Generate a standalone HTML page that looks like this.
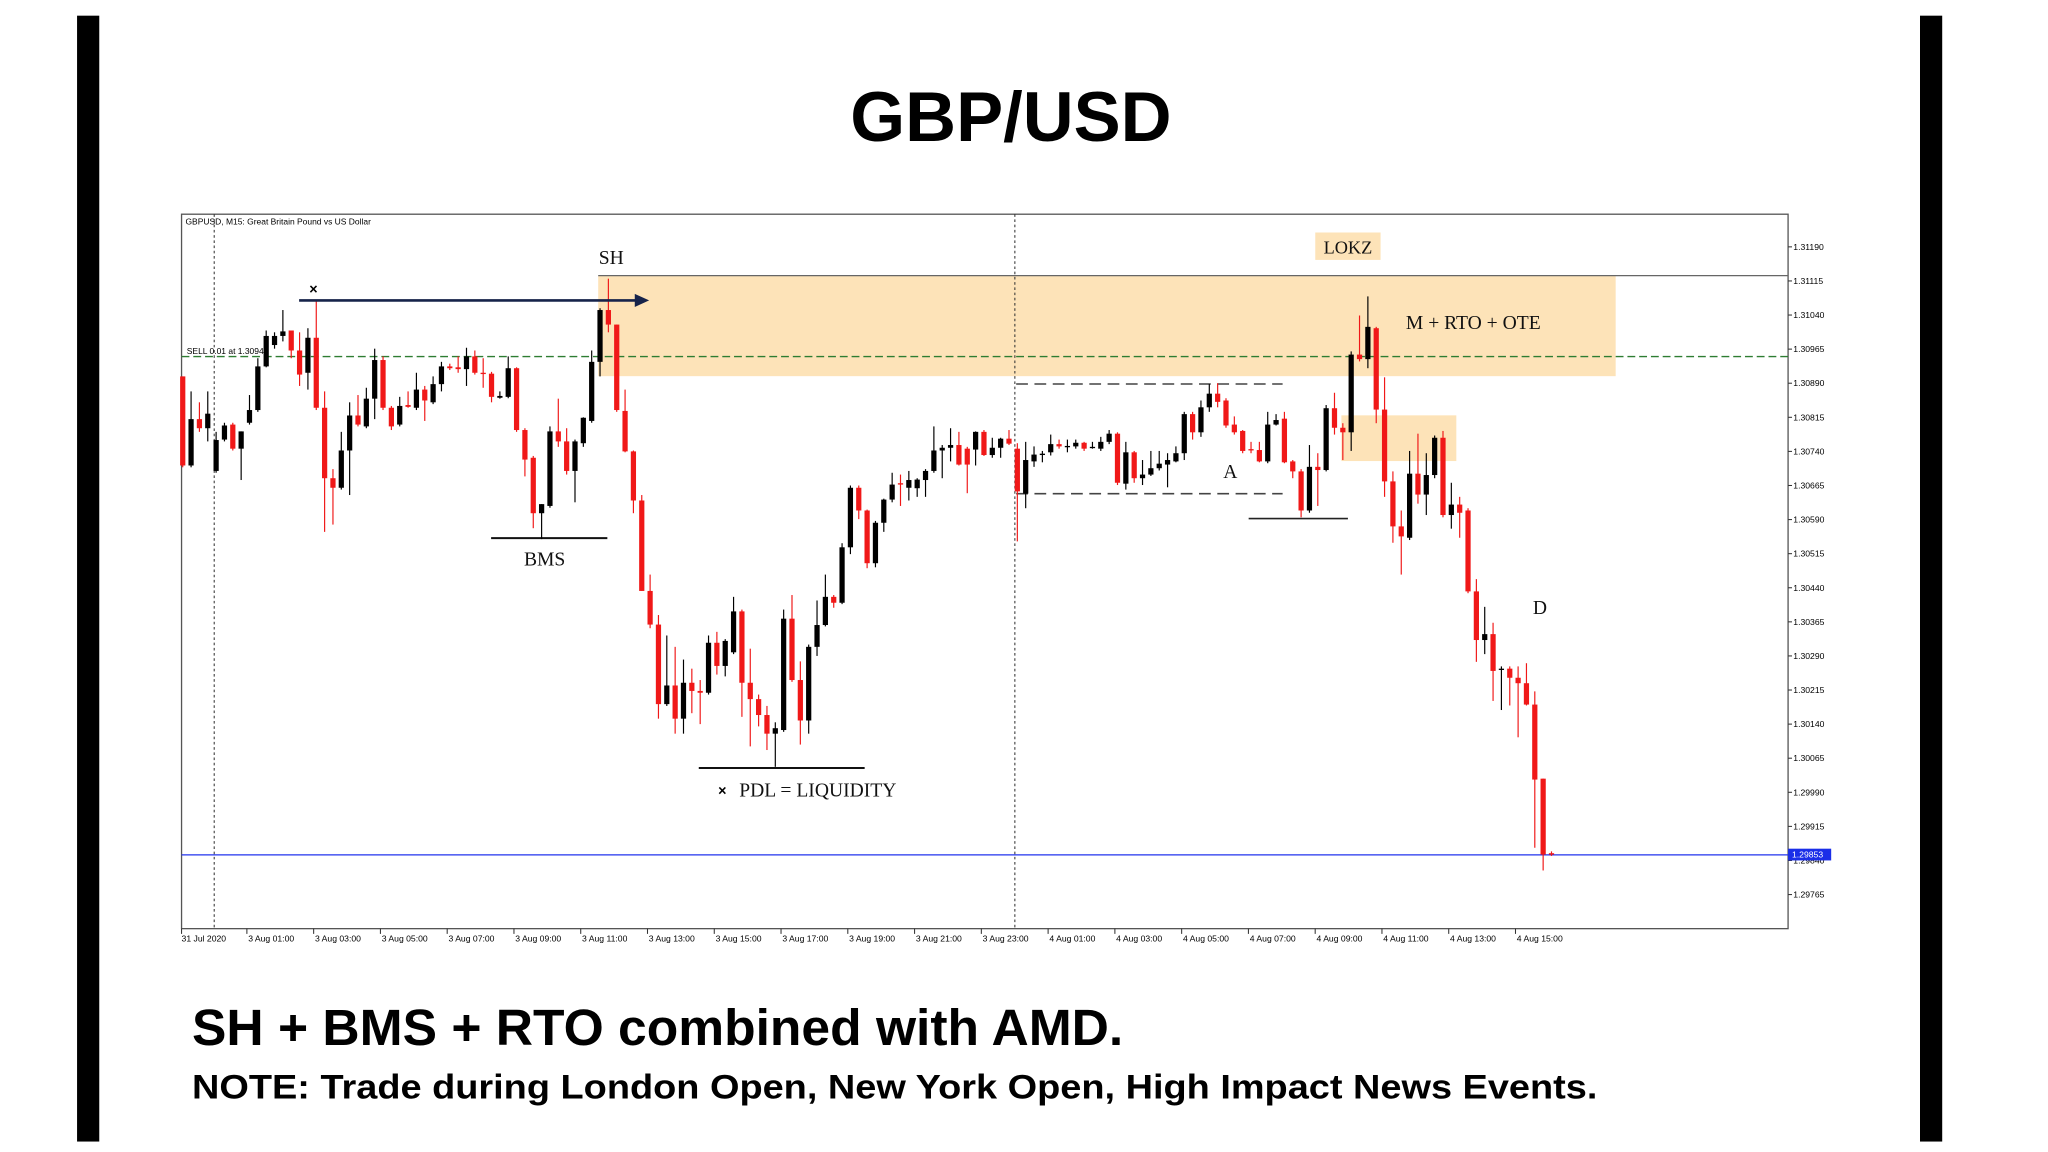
<!DOCTYPE html>
<html><head><meta charset="utf-8"><style>
html,body{margin:0;padding:0;background:#fff;}
svg{display:block;}
</style></head><body>
<svg id="root" width="2048" height="1152" viewBox="0 0 1568 882" xmlns="http://www.w3.org/2000/svg">
<rect x="0" y="0" width="1568" height="882" fill="#fff"/>
<rect x="59" y="12" width="17" height="862" fill="#000"/>
<rect x="1470" y="12" width="17" height="862" fill="#000"/>
<text x="774" y="108" text-anchor="middle" font-family="'Liberation Sans',sans-serif" font-weight="bold" font-size="54" fill="#000">GBP/USD</text>
<g id="chart">
<rect x="139" y="164" width="1230" height="547" fill="#fff" stroke="#555" stroke-width="1"/>
<rect x="458" y="211" width="779" height="77" fill="#fde3b8"/>
<rect x="1027" y="318" width="88" height="35" fill="#fde3b8"/>
<line x1="458" y1="211" x2="1369" y2="211" stroke="#666" stroke-width="1"/>
<line x1="164" y1="164" x2="164" y2="711" stroke="#333" stroke-width="0.8" stroke-dasharray="2 2"/>
<line x1="777" y1="164" x2="777" y2="711" stroke="#333" stroke-width="0.8" stroke-dasharray="2 2"/>
<line x1="139" y1="273" x2="1369" y2="273" stroke="#2e7d32" stroke-width="1" stroke-dasharray="6 3"/>
<text x="143" y="271" font-family="'Liberation Sans',sans-serif" font-size="6.5" fill="#000">SELL 0.01 at 1.30948</text>
<line x1="139" y1="654.5" x2="1369" y2="654.5" stroke="#2233ee" stroke-width="1"/>
<line x1="778" y1="294" x2="982" y2="294" stroke="#444" stroke-width="1.2" stroke-dasharray="9 5"/>
<line x1="778" y1="378" x2="982" y2="378" stroke="#444" stroke-width="1.2" stroke-dasharray="9 5"/>
<line x1="956" y1="397" x2="1032" y2="397" stroke="#222" stroke-width="1.2"/>
<line x1="376" y1="412" x2="465" y2="412" stroke="#111" stroke-width="1.5"/>
<line x1="535" y1="588" x2="662" y2="588" stroke="#111" stroke-width="1.5"/>
<g id="candles"></g>
<line x1="229" y1="230" x2="488" y2="230" stroke="#16234a" stroke-width="2"/>
<polygon points="486,225 497,230 486,235" fill="#16234a"/>
<text x="240" y="225" text-anchor="middle" font-family="'Liberation Sans',sans-serif" font-weight="bold" font-size="11" fill="#000">×</text>
<text x="468" y="202" text-anchor="middle" font-family="'Liberation Serif',serif" font-size="15" fill="#111">SH</text>
<text x="417" y="433" text-anchor="middle" font-family="'Liberation Serif',serif" font-size="15" fill="#111">BMS</text>
<text x="553" y="609" text-anchor="middle" font-family="'Liberation Sans',sans-serif" font-weight="bold" font-size="11" fill="#000">×</text>
<text x="566" y="610" font-family="'Liberation Serif',serif" font-size="15" fill="#111">PDL = LIQUIDITY</text>
<rect x="1007" y="178" width="50" height="21" fill="#fde3b8"/>
<text x="1032" y="194" text-anchor="middle" font-family="'Liberation Serif',serif" font-size="14" fill="#111">LOKZ</text>
<text x="1128" y="252" text-anchor="middle" font-family="'Liberation Serif',serif" font-size="15" fill="#111">M + RTO + OTE</text>
<text x="942" y="366" text-anchor="middle" font-family="'Liberation Serif',serif" font-size="15" fill="#111">A</text>
<text x="1179" y="470" text-anchor="middle" font-family="'Liberation Serif',serif" font-size="15" fill="#111">D</text>
<text x="142" y="172" font-family="'Liberation Sans',sans-serif" font-size="6.5" fill="#000">GBPUSD, M15:  Great Britain Pound vs US Dollar</text>
<g id="yaxis"></g>
<g id="xaxis"></g>
</g>
<text x="147" y="800" font-family="'Liberation Sans',sans-serif" font-weight="bold" font-size="39" textLength="713" lengthAdjust="spacingAndGlyphs" fill="#000">SH + BMS + RTO combined with AMD.</text>
<text x="147" y="841" font-family="'Liberation Sans',sans-serif" font-weight="bold" font-size="26" textLength="1076" lengthAdjust="spacingAndGlyphs" fill="#000">NOTE: Trade during London Open, New York Open, High Impact News Events.</text>
</svg>
<script>
const opens=[1.30905,1.30709,1.30811,1.30791,1.30697,1.30766,1.30799,1.30746,1.30803,1.30831,1.30927,1.30974,1.30994,1.31006,1.30962,1.30913,1.30990,1.30836,1.30681,1.30660,1.30742,1.30819,1.30795,1.30856,1.30941,1.30836,1.30799,1.30842,1.30836,1.30876,1.30848,1.30888,1.30927,1.30925,1.30921,1.30949,1.30913,1.30911,1.30858,1.30860,1.30923,1.30787,1.30726,1.30604,1.30620,1.30784,1.30762,1.30697,1.30758,1.30807,1.30937,1.31051,1.31019,1.30829,1.30740,1.30632,1.30433,1.30359,1.30184,1.30225,1.30152,1.30231,1.30213,1.30209,1.30319,1.30268,1.30298,1.30388,1.30231,1.30195,1.30160,1.30119,1.30127,1.30372,1.30237,1.30148,1.30310,1.30358,1.30420,1.30407,1.30529,1.30660,1.30610,1.30494,1.30583,1.30634,1.30670,1.30660,1.30659,1.30677,1.30697,1.30742,1.30748,1.30754,1.30746,1.30744,1.30783,1.30732,1.30748,1.30768,1.30746,1.30647,1.30718,1.30732,1.30738,1.30756,1.30750,1.30751,1.30759,1.30748,1.30746,1.30761,1.30779,1.30669,1.30738,1.30681,1.30689,1.30703,1.30711,1.30718,1.30736,1.30822,1.30782,1.30837,1.30867,1.30852,1.30799,1.30785,1.30745,1.30743,1.30718,1.30799,1.30812,1.30718,1.30696,1.30610,1.30706,1.30699,1.30835,1.30792,1.30782,1.30953,1.30943,1.31011,1.30832,1.30674,1.30575,1.30550,1.30691,1.30645,1.30688,1.30770,1.30600,1.30623,1.30610,1.30432,1.30325,1.30338,1.30260,1.30262,1.30242,1.30230,1.30183,1.30020,1.29856];
const highs=[1.30905,1.30872,1.30848,1.30872,1.30783,1.30803,1.30803,1.30784,1.30864,1.30945,1.31006,1.31002,1.31051,1.31006,1.31002,1.31011,1.31072,1.30872,1.30701,1.30783,1.30848,1.30864,1.30880,1.30966,1.30949,1.30840,1.30860,1.30872,1.30913,1.30884,1.30905,1.30937,1.30933,1.30949,1.30968,1.30962,1.30945,1.30915,1.30872,1.30949,1.30925,1.30791,1.30730,1.30624,1.30795,1.30856,1.30791,1.30766,1.30815,1.30962,1.31055,1.31120,1.31019,1.30876,1.30742,1.30644,1.30469,1.30380,1.30335,1.30310,1.30282,1.30262,1.30237,1.30335,1.30343,1.30327,1.30420,1.30392,1.30306,1.30205,1.30180,1.30144,1.30392,1.30424,1.30278,1.30315,1.30412,1.30469,1.30424,1.30538,1.30665,1.30665,1.30612,1.30587,1.30636,1.30693,1.30689,1.30697,1.30681,1.30701,1.30795,1.30754,1.30791,1.30783,1.30750,1.30784,1.30787,1.30770,1.30770,1.30787,1.30758,1.30761,1.30751,1.30741,1.30777,1.30766,1.30766,1.30766,1.30761,1.30761,1.30772,1.30787,1.30782,1.30761,1.30741,1.30721,1.30741,1.30741,1.30736,1.30751,1.30827,1.30827,1.30852,1.30888,1.30890,1.30857,1.30817,1.30787,1.30761,1.30761,1.30827,1.30822,1.30827,1.30721,1.30701,1.30754,1.30736,1.30842,1.30869,1.30802,1.30960,1.31039,1.31081,1.31014,1.30903,1.30696,1.30610,1.30741,1.30779,1.30736,1.30775,1.30785,1.30671,1.30640,1.30615,1.30459,1.30398,1.30363,1.30267,1.30267,1.30267,1.30274,1.30212,1.30020,1.29860];
const lows=[1.30705,1.30705,1.30783,1.30762,1.30693,1.30762,1.30742,1.30677,1.30799,1.30827,1.30925,1.30966,1.30982,1.30945,1.30884,1.30876,1.30831,1.30563,1.30579,1.30656,1.30644,1.30795,1.30791,1.30811,1.30831,1.30787,1.30795,1.30836,1.30831,1.30807,1.30844,1.30872,1.30919,1.30913,1.30884,1.30909,1.30880,1.30848,1.30856,1.30857,1.30783,1.30685,1.30571,1.30547,1.30616,1.30750,1.30689,1.30628,1.30750,1.30803,1.30905,1.31002,1.30827,1.30738,1.30604,1.30433,1.30351,1.30152,1.30180,1.30119,1.30119,1.30164,1.30140,1.30205,1.30249,1.30245,1.30294,1.30156,1.30091,1.30135,1.30083,1.30046,1.30123,1.30233,1.30095,1.30119,1.30290,1.30355,1.30396,1.30404,1.30514,1.30591,1.30483,1.30485,1.30563,1.30628,1.30620,1.30632,1.30640,1.30640,1.30693,1.30681,1.30718,1.30709,1.30648,1.30709,1.30730,1.30726,1.30726,1.30754,1.30542,1.30615,1.30706,1.30716,1.30731,1.30746,1.30738,1.30746,1.30741,1.30746,1.30741,1.30756,1.30666,1.30656,1.30671,1.30666,1.30686,1.30698,1.30661,1.30716,1.30721,1.30766,1.30772,1.30827,1.30837,1.30792,1.30777,1.30736,1.30736,1.30716,1.30714,1.30797,1.30714,1.30681,1.30595,1.30605,1.30620,1.30696,1.30777,1.30721,1.30741,1.30938,1.30923,1.30802,1.30640,1.30539,1.30469,1.30545,1.30625,1.30600,1.30681,1.30595,1.30570,1.30550,1.30428,1.30277,1.30294,1.30191,1.30171,1.30181,1.30111,1.30181,1.29868,1.29818,1.29850];
const closes=[1.30709,1.30811,1.30791,1.30823,1.30765,1.30797,1.30746,1.30784,1.30831,1.30927,1.30994,1.30994,1.31004,1.30962,1.30909,1.30990,1.30836,1.30681,1.30660,1.30742,1.30819,1.30799,1.30856,1.30941,1.30836,1.30795,1.30840,1.30838,1.30876,1.30852,1.30888,1.30927,1.30923,1.30921,1.30949,1.30913,1.30911,1.30860,1.30862,1.30923,1.30787,1.30722,1.30604,1.30624,1.30784,1.30762,1.30697,1.30762,1.30814,1.30937,1.31051,1.31019,1.30831,1.30740,1.30632,1.30433,1.30359,1.30184,1.30225,1.30152,1.30231,1.30213,1.30209,1.30319,1.30268,1.30323,1.30388,1.30231,1.30195,1.30160,1.30119,1.30131,1.30372,1.30237,1.30148,1.30310,1.30358,1.30420,1.30407,1.30529,1.30660,1.30610,1.30494,1.30583,1.30634,1.30667,1.30667,1.30677,1.30678,1.30697,1.30742,1.30748,1.30754,1.30711,1.30711,1.30783,1.30732,1.30748,1.30768,1.30757,1.30652,1.30721,1.30733,1.30735,1.30756,1.30751,1.30752,1.30759,1.30746,1.30750,1.30761,1.30779,1.30671,1.30738,1.30681,1.30689,1.30703,1.30713,1.30721,1.30736,1.30822,1.30782,1.30837,1.30867,1.30849,1.30797,1.30782,1.30741,1.30743,1.30718,1.30799,1.30809,1.30716,1.30696,1.30610,1.30706,1.30699,1.30835,1.30792,1.30782,1.30953,1.30943,1.31014,1.30832,1.30674,1.30575,1.30553,1.30691,1.30645,1.30688,1.30770,1.30600,1.30623,1.30605,1.30432,1.30325,1.30338,1.30257,1.30262,1.30242,1.30230,1.30183,1.30018,1.29853,1.29853];
const priceTicks=[1.31190,1.31115,1.31040,1.30965,1.30890,1.30815,1.30740,1.30665,1.30590,1.30515,1.30440,1.30365,1.30290,1.30215,1.30140,1.30065,1.29990,1.29915,1.29840,1.29765];
const timeLabels=["31 Jul 2020","3 Aug 01:00","3 Aug 03:00","3 Aug 05:00","3 Aug 07:00","3 Aug 09:00","3 Aug 11:00","3 Aug 13:00","3 Aug 15:00","3 Aug 17:00","3 Aug 19:00","3 Aug 21:00","3 Aug 23:00","4 Aug 01:00","4 Aug 03:00","4 Aug 05:00","4 Aug 07:00","4 Aug 09:00","4 Aug 11:00","4 Aug 13:00","4 Aug 15:00"];
const timeLabelIdx=[-1,8,16,24,32,40,48,56,64,72,80,88,96,104,112,120,128,136,144,152,160];
const lastPrice=1.29853;

const NS="http://www.w3.org/2000/svg";
function yScale(p){return 189+(1.31190-p)/0.00075*26.1;}
function xScale(i){return 139.9+i*6.39;}
function mk(tag,attrs,parent){const e=document.createElementNS(NS,tag);for(const k in attrs)e.setAttribute(k,attrs[k]);parent.appendChild(e);return e;}

const cg=document.getElementById('candles');
for(let i=0;i<closes.length;i++){
  const up=closes[i]>=opens[i];
  const col=up?'#000':'#f01818';
  const x=xScale(i);
  const g=mk('g',{},cg);
  
  
  const w=mk('line',{x1:x,x2:x,y1:yScale(highs[i]),y2:yScale(lows[i]),stroke:col,'stroke-width':0.9},g);
  
  
  const t=yScale(Math.max(opens[i],closes[i]));
  const b=yScale(Math.min(opens[i],closes[i]));
  const r=mk('rect',{x:x-2,y:t,width:4,height:Math.max(1,b-t),fill:col},g);
  
  
}

const ya=document.getElementById('yaxis');
for(let k=0;k<priceTicks.length;k++){
  const y=yScale(priceTicks[k]);
  const tk=mk('line',{x1:1369,x2:1372,y1:y,y2:y,stroke:'#333','stroke-width':0.8},ya);
  
  
  const tx=mk('text',{x:1373,y:y+2.3,'font-family':"'Liberation Sans',sans-serif",'font-size':6.6,fill:'#000'},ya);
  tx.textContent=priceTicks[k].toFixed(5);
  
  
}
const ly=yScale(lastPrice);
const lb=mk('rect',{x:1369,y:ly-4.5,width:33,height:9,fill:'#1a2ee8'},ya);


const lt=mk('text',{x:1372,y:ly+2.4,'font-family':"'Liberation Sans',sans-serif",'font-size':6.6,fill:'#fff'},ya);
lt.textContent=lastPrice.toFixed(5);



const xa=document.getElementById('xaxis');
for(let k=0;k<timeLabels.length;k++){
  const x=k===0?139:xScale(timeLabelIdx[k])-2;
  const tk=mk('line',{x1:x,x2:x,y1:711,y2:715,stroke:'#333','stroke-width':0.8},xa);
  
  
  const tx=mk('text',{x:x+(k===0?0:1),y:721,'font-family':"'Liberation Sans',sans-serif",'font-size':6.6,fill:'#000'},xa);
  tx.textContent=timeLabels[k];
  
  
}
</script>
</body></html>
